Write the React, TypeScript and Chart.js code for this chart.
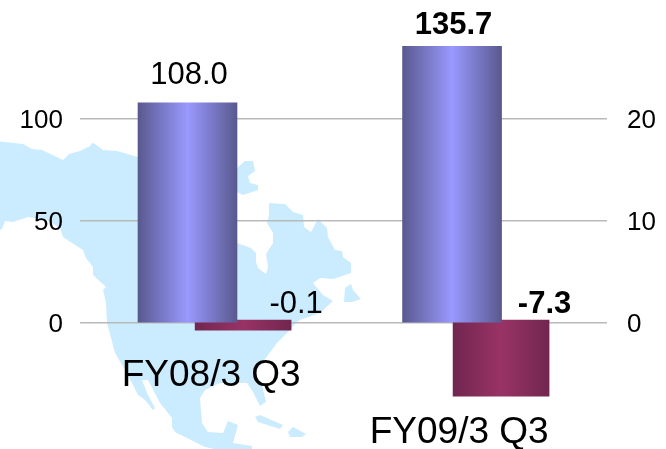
import React, { useEffect, useRef } from "react";
import { Chart, registerables } from "chart.js";

Chart.register(...registerables);

const categories = ["FY08/3 Q3", "FY09/3 Q3"];
const blueValues = [108.0, 135.7];
const maroonValues = [-0.1, -7.3];
const blueLabels = ["108.0", "135.7"];
const maroonLabels = ["-0.1", "-7.3"];
const leftTicks = [0, 50, 100];
const rightTicks = [0, 10, 20];
const bluePositions = [0.408, 1.412];
const maroonPositions = [0.619, 1.598];
const categoryPositions = [0.498, 1.439];

const FONT = '"Liberation Sans", Arial, sans-serif';
const BLUE_WIDTH = 99;
const MAROON_WIDTH = 96;

const MAP_SHAPES: number[][][] = [
  [
    [0, 141.5], [23, 144], [32, 149], [42, 150], [63, 160], [69, 154], [80, 151], [90, 146], [92, 143], [95, 144],
    [103, 150], [117, 151], [138, 157], [237, 243], [251, 248], [256, 253], [256, 262], [258, 268], [266, 274],
    [268, 267], [266, 254], [273, 243], [273, 233], [267, 223], [269, 215], [269, 203], [285, 204], [293, 212],
    [303, 215], [304, 227], [311, 232], [318, 219], [327, 228], [328, 237], [335, 250], [342, 251], [343, 257],
    [351, 263], [351, 273], [333, 279], [320, 278], [313, 283], [323, 295], [333, 301], [320, 313], [300, 320],
    [297, 322], [290, 330], [277, 343], [253, 375], [262, 385], [266, 402], [260, 406], [253, 392], [247, 383],
    [220, 383], [205, 390], [200, 398], [202, 423], [208, 432], [223, 433], [228, 421], [238, 425], [233, 443],
    [252, 446], [252, 449], [214, 449], [205, 447], [175, 432], [172, 427], [172, 418], [160, 403], [148, 380],
    [142, 380], [147, 393], [155, 408], [153, 410], [145, 400], [138, 395], [132, 383], [125, 370], [115, 353],
    [107, 323], [106, 303], [103, 290], [106, 287], [93, 275], [93, 267], [86, 258], [83, 250], [72, 243], [63, 237],
    [60, 228], [47, 220], [28, 217], [13, 222], [5, 221], [2, 229], [0, 230],
  ],
  [
    [230, 172], [237, 168], [245, 161], [253, 161], [255, 171], [248, 176], [250, 183], [258, 185], [258, 190],
    [243, 195], [237, 192], [230, 190],
  ],
  [[345, 288], [351, 284], [353, 290], [361, 299], [352, 302], [344, 302]],
  [[255, 417], [260, 415], [283, 425], [280, 429], [258, 422]],
  [[288, 432], [293, 427], [306, 434], [302, 437], [290, 437]],
];

const gradientFor = (chart: any, center: number, width: number, edge: string, mid: string) => {
  const scale = chart.scales.x;
  if (!scale) return mid;
  const c = scale.getPixelForValue(center);
  if (!Number.isFinite(c)) return mid;
  const g = chart.ctx.createLinearGradient(c - width / 2, 0, c + width / 2, 0);
  g.addColorStop(0, edge);
  g.addColorStop(0.5, mid);
  g.addColorStop(1, edge);
  return g;
};

const mapPlugin = {
  id: "mapBackdrop",
  beforeDraw(chart: any) {
    const { ctx } = chart;
    ctx.save();
    ctx.fillStyle = "#cbecff";
    for (const shape of MAP_SHAPES) {
      ctx.beginPath();
      shape.forEach(([x, y], i) => (i ? ctx.lineTo(x, y) : ctx.moveTo(x, y)));
      ctx.closePath();
      ctx.fill();
    }
    ctx.restore();
  },
};

const textPlugin = {
  id: "barTexts",
  afterDraw(chart: any) {
    const { ctx } = chart;
    const x = chart.scales.x;
    const put = (text: string, cx: number, cy: number, font: string) => {
      ctx.font = font;
      ctx.fillText(text, cx, cy);
    };
    ctx.save();
    ctx.fillStyle = "#000";
    ctx.textAlign = "center";
    ctx.textBaseline = "alphabetic";
    const blue = chart.getDatasetMeta(0).data;
    const maroon = chart.getDatasetMeta(1).data;
    put(blueLabels[0], blue[0].x + 1.5, blue[0].y - 19, `31px ${FONT}`);
    put(blueLabels[1], blue[1].x + 1.5, blue[1].y - 12, `bold 31px ${FONT}`);
    put(maroonLabels[0], maroon[0].x + 53, 313, `31px ${FONT}`);
    put(maroonLabels[1], maroon[1].x + 43.5, 313, `bold 31px ${FONT}`);
    put(categories[0], x.getPixelForValue(categoryPositions[0]), 386, `37px ${FONT}`);
    put(categories[1], x.getPixelForValue(categoryPositions[1]), 443, `37px ${FONT}`);
    ctx.restore();
  },
};

export default function App() {
  const ref = useRef<HTMLCanvasElement>(null);

  useEffect(() => {
    document.body.style.margin = "0";
    const chart = new Chart(ref.current!, {
      type: "bar",
      data: {
        datasets: [
          {
            data: bluePositions.map((x, i) => ({ x, y: blueValues[i] })),
            yAxisID: "y",
            barThickness: BLUE_WIDTH,
            grouped: false,
            backgroundColor: (c: any) =>
              gradientFor(c.chart, bluePositions[c.dataIndex] ?? NaN, BLUE_WIDTH, "#59598f", "#9999ff"),
          },
          {
            data: maroonPositions.map((x, i) => ({ x, y: maroonValues[i] })),
            yAxisID: "y2",
            barThickness: MAROON_WIDTH,
            minBarLength: 10,
            grouped: false,
            backgroundColor: (c: any) =>
              gradientFor(c.chart, maroonPositions[c.dataIndex] ?? NaN, MAROON_WIDTH, "#71264f", "#993366"),
          },
        ],
      },
      options: {
        animation: false,
        responsive: false,
        layout: { padding: { top: 5, bottom: 4, left: 0, right: 0 } },
        plugins: { legend: { display: false }, tooltip: { enabled: false } },
        scales: {
          x: { type: "linear", min: 0, max: 2, display: false, offset: false },
          y: {
            position: "left",
            min: -59.8,
            max: 155.9,
            afterBuildTicks: (s: any) => {
              s.ticks = leftTicks.map((value) => ({ value }));
            },
            afterFit: (s: any) => {
              s.width = 80;
              s.paddingTop = 0;
              s.paddingBottom = 0;
            },
            grid: { color: "#b9b9b9", lineWidth: 1.5, drawTicks: false },
            border: { display: false },
            ticks: { padding: 17, labelOffset: 1.5, font: { family: FONT, size: 26 }, color: "#000" },
          },
          y1: {
            position: "right",
            min: -11.96,
            max: 31.18,
            afterBuildTicks: (s: any) => {
              s.ticks = rightTicks.map((value) => ({ value }));
            },
            afterFit: (s: any) => {
              s.width = 59;
              s.paddingTop = 0;
              s.paddingBottom = 0;
            },
            grid: { display: false, drawTicks: false },
            border: { display: false },
            ticks: { padding: 20, labelOffset: 1.5, font: { family: FONT, size: 26 }, color: "#000" },
          },
          y2: { display: false, min: -12.0, max: 30.26 },
        },
      } as any,
      plugins: [mapPlugin, textPlugin],
    });
    return () => chart.destroy();
  }, []);

  return <canvas ref={ref} width={666} height={449} style={{ display: "block" }} />;
}
